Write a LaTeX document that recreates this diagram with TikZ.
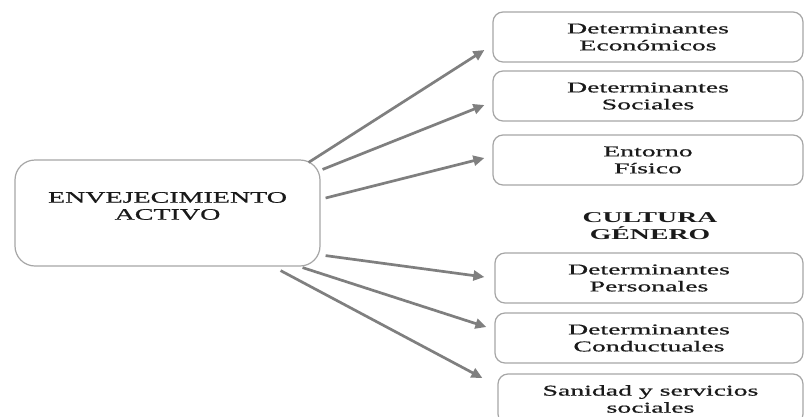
\documentclass[tikz,border=0pt]{standalone}
\usepackage{fontspec}
\newfontfamily\boxfont[FakeStretch=1.85,FakeBold=0.7]{Liberation Serif}
\newfontfamily\ctrfont[FakeStretch=1.75,FakeBold=0.8]{Liberation Serif}
\newfontfamily\boldfont[FakeStretch=1.85]{Liberation Serif Bold}
\usetikzlibrary{arrows.meta,calc}
\definecolor{boxgray}{HTML}{A6A6A6}
\definecolor{arrgray}{HTML}{7F7F7F}
\definecolor{txt}{HTML}{1A1A1A}
\begin{document}
\begin{tikzpicture}[x=1pt,y=-1pt,
  box/.style={draw=boxgray, line width=1.2pt, rounded corners=10pt,
    minimum width=310pt, minimum height=50pt, align=center, text=txt,
    font=\boxfont\fontsize{15}{17}\selectfont, inner sep=0pt},
  conn/.style={draw=arrgray, line width=2.7pt, -{Triangle[length=11pt,width=10pt]}}]
\clip (0,0) rectangle (804,416);
\fill[white] (0,0) rectangle (804,416);
% central box
\node[box, minimum width=305pt, minimum height=106pt, rounded corners=20pt] (c) at (167.5,213) {};
\node[align=center, text=txt, font=\ctrfont\fontsize{16}{17}\selectfont, inner sep=0pt] (ct) at (167.5,206) {ENVEJECIMIENTO\\ACTIVO};
% right boxes
\node[box] (b1) at (648,37) {Determinantes\\Económicos};
\node[box] (b2) at (648,96) {Determinantes\\Sociales};
\node[box] (b3) at (648,160) {Entorno\\Físico};
\node[align=center, text=txt, font=\boldfont\fontsize{15}{17}\selectfont, inner sep=0pt] (cg) at (650,226.5) {CULTURA\\GÉNERO};
\node[box, minimum width=308pt] (b4) at (649,278) {Determinantes\\Personales};
\node[box, minimum width=308pt] (b5) at (649,338) {Determinantes\\Conductuales};
\node[box, minimum width=305pt] (b6) at (650.5,399) {Sanidad y servicios\\sociales};
% connectors
\draw[conn] ($(c.north east)+(-12,3)$) -- ($(b1.west)+(-8,13)$);
\draw[conn] ($(c.north east)+(2,10)$) -- ($(b2.west)+(-8,9)$);
\draw[conn] ($(c.east)+(5,-15)$) -- ($(b3.west)+(-8,-2)$);
\draw[conn] ($(c.south east)+(5,-11)$) -- ($(b4.west)+(-10,-1)$);
\draw[conn] ($(c.south east)+(-18,1)$) -- ($(b5.west)+(-8,-11)$);
\draw[conn] ($(c.south east)+(-40,4)$) -- ($(b6.west)+(-15,-21)$);
\end{tikzpicture}
\end{document}
